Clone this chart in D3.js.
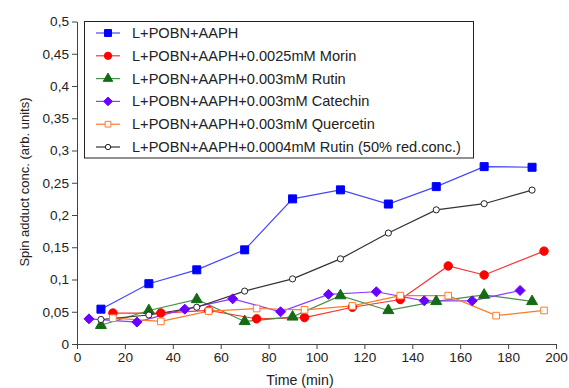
<!DOCTYPE html>
<html><head><meta charset="utf-8">
<script src="https://cdn.jsdelivr.net/npm/d3@7"></script>
<style>body{margin:0;background:#fff}svg{display:block}text{font-family:"Liberation Sans",Arial,sans-serif;fill:#222}</style>
</head><body><svg id="c" width="569" height="388"></svg>
<script>
const seriesNames = ["L+POBN+AAPH","L+POBN+AAPH+0.0025mM Morin","L+POBN+AAPH+0.003mM Rutin","L+POBN+AAPH+0.003mM Catechin","L+POBN+AAPH+0.003mM Quercetin","L+POBN+AAPH+0.0004mM Rutin (50% red.conc.)"];
const blueX = [10,30,50,70,90,110,130,150,170,190];
const blueY = [0.054,0.0935,0.115,0.146,0.225,0.239,0.217,0.244,0.275,0.274];
const redX = [15,35,55,75,95,115,135,155,170,195];
const redY = [0.048,0.048,0.052,0.039,0.041,0.057,0.069,0.121,0.107,0.144];
const greenX = [10,30,50,70,90,110,130,150,170,190];
const greenY = [0.029,0.052,0.069,0.035,0.042,0.075,0.052,0.066,0.076,0.066];
const purpleX = [5,25,45,65,85,105,125,145,165,185];
const purpleY = [0.039,0.034,0.054,0.070,0.050,0.077,0.081,0.067,0.067,0.083];
const orangeX = [15,35,55,75,95,115,135,155,175,195];
const orangeY = [0.040,0.035,0.051,0.055,0.053,0.059,0.075,0.075,0.044,0.052];
const blackX = [10,30,50,70,90,110,130,150,170,190];
const blackY = [0.038,0.045,0.057,0.082,0.101,0.132,0.172,0.208,0.2175,0.2386];
const xTicks = [0,20,40,60,80,100,120,140,160,180,200];
const yTicks = [0,0.05,0.1,0.15,0.2,0.25,0.3,0.35,0.4,0.45,0.5];
const yTickLabels = ["0","0,05","0,1","0,15","0,2","0,25","0,3","0,35","0,4","0,45","0,5"];

const diamond = {draw(ctx,size){const r=Math.sqrt(size/2);ctx.moveTo(0,-r);ctx.lineTo(r,0);ctx.lineTo(0,r);ctx.lineTo(-r,0);ctx.closePath();}};
const styles = [
  {line:"#4646ff", fill:"#0000ff", stroke:"#0000ff", sym:d3.symbolSquare, size:64},
  {line:"#ff3030", fill:"#ff0000", stroke:"#ff0000", sym:d3.symbolCircle, size:56},
  {line:"#4a8f4a", fill:"#136b13", stroke:"#136b13", sym:d3.symbolTriangle, size:52},
  {line:"#8a3cff", fill:"#6a00ff", stroke:"#6a00ff", sym:diamond, size:50},
  {line:"#ff7a2a", fill:"#ffffff", stroke:"#ff7a2a", sym:d3.symbolSquare, size:44},
  {line:"#333333", fill:"#ffffff", stroke:"#222222", sym:d3.symbolCircle, size:30}
];
const series = [
  [blueX,blueY],[redX,redY],[greenX,greenY],[purpleX,purpleY],[orangeX,orangeY],[blackX,blackY]
].map(([xs,ys],i)=>({name:seriesNames[i], pts:xs.map((x,j)=>[x,ys[j]]), st:styles[i]}));

const svg = d3.select("#c");
const x = d3.scaleLinear().domain([0,200]).range([77,556]);
const y = d3.scaleLinear().domain([0,0.5]).range([344,21.5]);

const xAxis = svg.append("g").attr("transform","translate(0,344)")
  .call(d3.axisBottom(x).tickValues(xTicks).tickSize(5).tickSizeOuter(0).tickPadding(3));
const yAxis = svg.append("g").attr("transform","translate(77,0)")
  .call(d3.axisLeft(y).tickValues(yTicks).tickFormat((d,i)=>yTickLabels[i]).tickSize(5).tickSizeOuter(0).tickPadding(3));
[xAxis,yAxis].forEach(g=>{
  g.selectAll("path,line").attr("stroke","#444");
  g.selectAll("text").attr("font-size",13.6).attr("fill","#222").style("font-family","'Liberation Sans',Arial,sans-serif");
});

svg.append("text").attr("x",300).attr("y",385).attr("text-anchor","middle").attr("font-size",14.2).text("Time (min)");
svg.append("text").attr("transform","translate(29,182) rotate(-90)").attr("text-anchor","middle").attr("font-size",13).text("Spin adduct conc. (arb. units)");

const line = d3.line().x(d=>x(d[0])).y(d=>y(d[1]));
series.forEach(s=>{
  svg.append("path").datum(s.pts).attr("d",line).attr("fill","none").attr("stroke",s.st.line).attr("stroke-width",1.2);
});
series.forEach(s=>{
  svg.append("g").selectAll("path").data(s.pts).join("path")
    .attr("transform",d=>`translate(${x(d[0])},${y(d[1])})`)
    .attr("d",d3.symbol().type(s.st.sym).size(s.st.size))
    .attr("fill",s.st.fill).attr("stroke",s.st.stroke).attr("stroke-width",1);
});

// legend
const lg = svg.append("g");
lg.append("rect").attr("x",84.5).attr("y",21.5).attr("width",389).attr("height",136.5).attr("fill","#fff").attr("stroke","#222").attr("stroke-width",1);
series.forEach((s,i)=>{
  const yy = 33 + i*22.8;
  lg.append("line").attr("x1",96).attr("x2",120).attr("y1",yy).attr("y2",yy).attr("stroke",s.st.line).attr("stroke-width",1.2);
  lg.append("path").attr("transform",`translate(108,${yy})`).attr("d",d3.symbol().type(s.st.sym).size(s.st.size*0.75))
    .attr("fill",s.st.fill).attr("stroke",s.st.stroke);
  lg.append("text").attr("x",132).attr("y",yy+5).attr("font-size",14.6).text(s.name);
});
</script></body></html>
